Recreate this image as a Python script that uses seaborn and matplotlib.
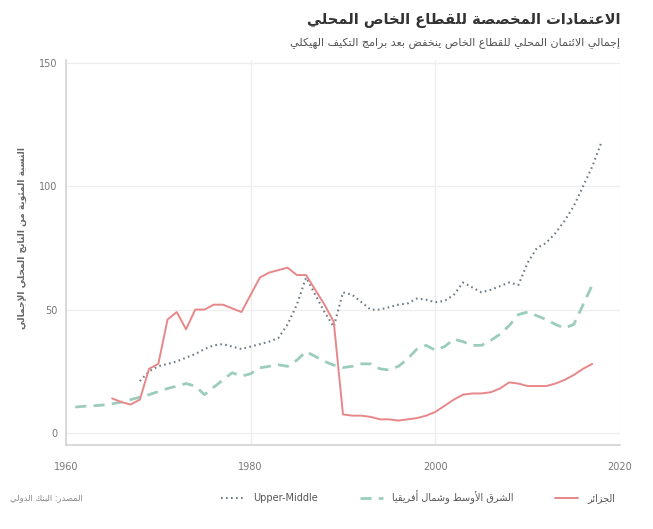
import numpy as np
import pandas as pd
import matplotlib
matplotlib.use("Agg")
import matplotlib.pyplot as plt
import seaborn as sns

# ---------------- data ----------------
years_alg = list(range(1965, 2018))
algeria = [14, 12.5, 11.5, 13.5, 26, 28, 46, 49, 42, 50, 50, 52, 52, 50.5, 49,
           56, 63, 65, 66, 67, 64, 64, 58, 52, 45, 7.5, 7, 7, 6.5, 5.5, 5.5, 5,
           5.5, 6, 7, 8.5, 11, 13.5, 15.5, 16, 16, 16.5, 18, 20.5, 20, 19, 19,
           19, 20, 21.5, 23.5, 26, 28]

years_mena = list(range(1961, 2018))
mena = [10.5, 10.8, 11, 11.3, 11.8, 12.5, 13.5, 14.5, 15.5, 16.8, 18, 19, 20,
        19, 15.5, 18.5, 21.5, 24.4, 23, 24, 26.4, 27, 27.6, 27, 29.5, 33, 31,
        29, 27.5, 26.5, 27, 28, 28, 26, 25.5, 27, 30, 34, 35.5, 33.5, 35, 38,
        37, 35.5, 35.5, 37.5, 40, 43.5, 48, 49, 47.5, 46, 44, 42.5, 44, 52, 60]

years_um = list(range(1968, 2019))
upper_middle = [21, 25, 27, 28, 29, 30.5, 32, 34, 35.5, 36, 35, 34, 35, 36, 37,
                38.5, 44, 52, 63, 56, 49, 43, 57, 56, 53, 50, 50, 51, 52, 52.5,
                54.5, 54, 53, 53.5, 56, 61, 59, 57, 58, 59.5, 61, 60, 69, 75, 77,
                81, 86, 92, 100, 108, 118]

x_ticks = [1960, 1980, 2000, 2020]
y_ticks = [0, 50, 100, 150]

title = "الاعتمادات المخصصة للقطاع الخاص المحلي"
subtitle = "إجمالي الائتمان المحلي للقطاع الخاص ينخفض بعد برامج التكيف الهيكلي"
ylabel = "النسبة المئوية من الناتج المحلي الإجمالي"
source = "المصدر: البنك الدولي"
lab_alg = "الجزائر"
lab_mena = "الشرق الأوسط وشمال أفريقيا"
lab_um = "Upper-Middle"

# ------------- simple Arabic shaping (presentation forms, RTL) -------------
BASE = {'ء': (0xFE80, 1), 'آ': (0xFE81, 2), 'أ': (0xFE83, 2), 'ؤ': (0xFE85, 2),
        'إ': (0xFE87, 2), 'ئ': (0xFE89, 4), 'ا': (0xFE8D, 2), 'ب': (0xFE8F, 4),
        'ة': (0xFE93, 2), 'ت': (0xFE95, 4), 'ث': (0xFE99, 4), 'ج': (0xFE9D, 4),
        'ح': (0xFEA1, 4), 'خ': (0xFEA5, 4), 'د': (0xFEA9, 2), 'ذ': (0xFEAB, 2),
        'ر': (0xFEAD, 2), 'ز': (0xFEAF, 2), 'س': (0xFEB1, 4), 'ش': (0xFEB5, 4),
        'ص': (0xFEB9, 4), 'ض': (0xFEBD, 4), 'ط': (0xFEC1, 4), 'ظ': (0xFEC5, 4),
        'ع': (0xFEC9, 4), 'غ': (0xFECD, 4), 'ف': (0xFED1, 4), 'ق': (0xFED5, 4),
        'ك': (0xFED9, 4), 'ل': (0xFEDD, 4), 'م': (0xFEE1, 4), 'ن': (0xFEE5, 4),
        'ه': (0xFEE9, 4), 'و': (0xFEED, 2), 'ى': (0xFEEF, 2), 'ي': (0xFEF1, 4)}
LAM_ALEF = {'آ': 0xFEF5, 'أ': 0xFEF7, 'إ': 0xFEF9, 'ا': 0xFEFB}


def ar(s):
    out = []
    i = 0
    n = len(s)
    while i < n:
        c = s[i]
        if c not in BASE:
            out.append(c)
            i += 1
            continue
        prev = s[i - 1] if i > 0 else ''
        jp = prev in BASE and BASE[prev][1] == 4 and BASE[c][1] > 1
        if c == 'ل' and i + 1 < n and s[i + 1] in LAM_ALEF:
            b = LAM_ALEF[s[i + 1]]
            out.append(chr(b + 1 if jp else b))
            i += 2
            continue
        nxt = s[i + 1] if i + 1 < n else ''
        b, k = BASE[c]
        jn = k == 4 and nxt in BASE and BASE[nxt][1] > 1
        if k == 1:
            f = b
        elif k == 2:
            f = b + 1 if jp else b
        else:
            f = b + 3 if (jp and jn) else (b + 1 if jp else (b + 2 if jn else b))
        out.append(chr(f))
        i += 1
    return ''.join(reversed(out))


# ---------------- styling ----------------
sns.set_theme(style="white")
plt.rcParams['font.family'] = ['DejaVu Sans']

c_alg = "#e7878a"
c_mena = "#9ccdbc"
c_um = "#6f7c86"
txt = "#555555"

fig = plt.figure(figsize=(6.53, 5.29), dpi=100)
fig.patch.set_facecolor("white")
ax = fig.add_axes([66 / 653, 84 / 529, (620 - 66) / 653, (445 - 60) / 529])

df_alg = pd.DataFrame({"year": years_alg, "value": algeria})
df_mena = pd.DataFrame({"year": years_mena, "value": mena})
df_um = pd.DataFrame({"year": years_um, "value": upper_middle})

sns.lineplot(data=df_mena, x="year", y="value", ax=ax, color=c_mena,
             linewidth=2.0, linestyle=(0, (4.0, 2.6)), label=ar(lab_mena))
sns.lineplot(data=df_um, x="year", y="value", ax=ax, color=c_um,
             linewidth=1.5, linestyle=(0, (0.8, 1.6)), label=lab_um)
sns.lineplot(data=df_alg, x="year", y="value", ax=ax, color=c_alg,
             linewidth=1.4, label=ar(lab_alg))

ax.set_xlim(1960, 2020)
ax.set_ylim(-4.9, 151.2)
ax.set_xticks(x_ticks)
ax.set_yticks(y_ticks)
ax.set_xlabel("")
ax.set_ylabel("")
ax.grid(True, color="#eeeeee", linewidth=0.9)
ax.set_axisbelow(True)
for side in ["top", "right"]:
    ax.spines[side].set_visible(False)
ax.spines["left"].set_color("#d5d5d5")
ax.spines["bottom"].set_color("#d5d5d5")
ax.tick_params(axis="both", labelsize=7, colors="#777777", length=3,
               color="#cccccc")
ax.tick_params(axis="x", pad=9)
ax.tick_params(axis="y", pad=3)

# legend in order: Upper-Middle, MENA, Algeria
h, l = ax.get_legend_handles_labels()
order = [1, 0, 2]
leg = ax.legend([h[i] for i in order], [l[i] for i in order], ncol=3,
                loc="center right", bbox_to_anchor=(0.955, 0.06),
                bbox_transform=fig.transFigure, frameon=False, fontsize=7,
                handlelength=2.4, columnspacing=4.3, handletextpad=0.9)
for t in leg.get_texts():
    t.set_color(txt)

fig.text(0.95, 0.962, ar(title), ha="right", va="center", fontsize=10.5,
         fontweight="bold", color="#333333")
fig.text(0.95, 0.918, ar(subtitle), ha="right", va="center", fontsize=8,
         color="#555555")
fig.text(0.034, 0.55, ar(ylabel), ha="center", va="center", rotation=90,
         fontsize=6.5, fontweight="bold", color="#666666")
fig.text(0.015, 0.06, ar(source), ha="left", va="center", fontsize=6,
         color="#888888")

fig.savefig("out.png", dpi=100, facecolor="white")
